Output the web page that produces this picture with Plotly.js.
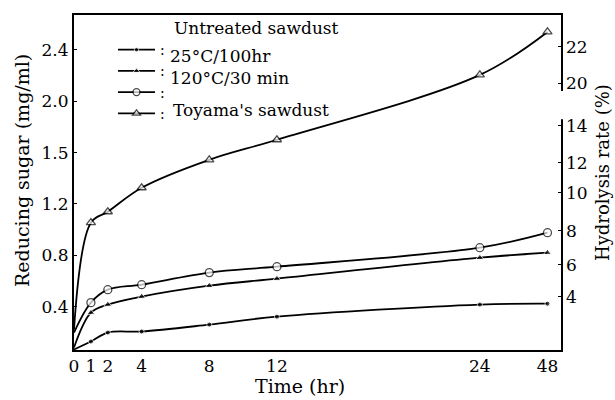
<!DOCTYPE html>
<html>
<head>
<meta charset="utf-8">
<script src="https://cdn.plot.ly/plotly-3.0.1.min.js"></script>
<style>html,body{margin:0;padding:0;background:#fff;}#chart{width:615px;height:400px;}</style>
</head>
<body>
<div id="chart"></div>
<script>
// ---- data ----
const hours = [0, 1, 2, 4, 8, 12, 24, 48];
const legendHeader = "Untreated sawdust";
const legendLabels = ["25°C/100hr", "120°C/30 min", "Toyama's sawdust"];
const sugarA = [0.066, 0.128, 0.198, 0.206, 0.260, 0.322, 0.416, 0.423];   // filled circles
const sugarB = [0.081, 0.353, 0.416, 0.478, 0.563, 0.618, 0.781, 0.820];   // filled triangles
const sugarC = [0.198, 0.431, 0.532, 0.571, 0.665, 0.711, 0.859, 0.976];   // open circles
const sugarD = [0.221, 1.054, 1.139, 1.326, 1.544, 1.700, 2.205, 2.540];   // open triangles
const xTickLabels = ["0", "1", "2", "4", "8", "12", "24", "48"];
const yTickLabels = ["0.4", "0.8", "1.2", "1.5", "2.0", "2.4"];
const yTickVals = [0.4, 0.8, 1.2, 1.6, 2.0, 2.4];
const rightTickLabels = ["4", "6", "8", "10", "12", "14", "20", "22"];
// right-axis calibration (hydrolysis rate tick -> reducing-sugar scale position)
const rightTickPos = [0.478, 0.727, 0.991, 1.287, 1.520, 1.809, 2.140, 2.423];

// axis break on time axis: linear up to 24 h, compressed beyond
function tpos(h) { return h <= 24 ? h : 24 + (h - 24) / 6; }
const xPos = hours.map(tpos);
const xTickVals = hours.map(tpos);

const FONT = "DejaVu Serif, Liberation Serif, serif";
function sizes(s) { return hours.map((h) => h === 0 ? 0 : s); }

const lineStyle = {color: "#000", width: 1.8, shape: "spline", smoothing: 1};
const traces = [
  {x: xPos, y: sugarA, name: ":", mode: "lines+markers", line: lineStyle,
   marker: {symbol: "circle", size: sizes(5), color: "#000"}},
  {x: xPos, y: sugarB, name: ":", mode: "lines+markers", line: lineStyle,
   marker: {symbol: "triangle-up", size: sizes(7), color: "#000"}},
  {x: xPos, y: sugarC, name: ":", mode: "lines+markers", line: lineStyle,
   marker: {symbol: "circle", size: sizes(8), color: "#fff", line: {color: "#000", width: 1.3}}},
  {x: xPos, y: sugarD, name: ":", mode: "lines+markers", line: lineStyle,
   marker: {symbol: "triangle-up", size: sizes(8), color: "#fff", line: {color: "#000", width: 1.3}}},
  // invisible trace carrying the right axis
  {x: [xPos[0]], y: [rightTickPos[0]], yaxis: "y2", mode: "markers", showlegend: false,
   hoverinfo: "skip", marker: {opacity: 0}}
];

function txt(text, x, y, size, extra) {
  return Object.assign({text: text, xref: "paper", yref: "paper", x: x, y: y,
    xanchor: "left", yanchor: "middle", showarrow: false,
    font: {family: FONT, size: size, color: "#000"}}, extra || {});
}

const yRange = [0.062, 2.672];
const layout = {
  width: 615, height: 400,
  margin: {l: 74, r: 54, t: 15, b: 50},
  paper_bgcolor: "#fff", plot_bgcolor: "#fff",
  font: {family: FONT, size: 17, color: "#000"},
  showlegend: true,
  legend: {x: 0.0801, y: 0.943, xanchor: "left", yanchor: "top", bgcolor: "rgba(0,0,0,0)",
           font: {family: FONT, size: 14, color: "#000"}, itemwidth: 37, tracegroupgap: 0},
  xaxis: {range: [0, 28.8], tickvals: xTickVals, ticktext: xTickLabels,
          showgrid: false, zeroline: false, showline: true, linecolor: "#000", linewidth: 2,
          mirror: true, ticks: "", tickfont: {family: FONT, size: 17}},
  yaxis: {range: yRange, tickvals: yTickVals, ticktext: yTickLabels,
          showgrid: false, zeroline: false, showline: true, linecolor: "#000", linewidth: 2,
          ticks: "inside", ticklen: 3, tickcolor: "#000", tickfont: {family: FONT, size: 17}},
  yaxis2: {overlaying: "y", side: "right", range: yRange, tickvals: rightTickPos, ticktext: rightTickLabels,
           showgrid: false, zeroline: false, showline: true, linecolor: "#000", linewidth: 1.5,
           ticks: "inside", ticklen: 3, tickcolor: "#000", tickfont: {family: FONT, size: 17}},
  annotations: [
    txt(legendHeader, 0.2012, 0.9612, 17),
    txt(legendLabels[0], 0.193, 0.8776, 17),
    txt(legendLabels[1], 0.193, 0.812, 17),
    txt(legendLabels[2], 0.199, 0.7164, 17),
    // axis titles
    txt("Time (hr)", 0.464, -0.108, 19, {xanchor: "center"}),
    txt("Reducing sugar (mg/ml)", -0.107, 0.537, 19, {xanchor: "center", textangle: -90}),
    txt("Hydrolysis rate (%)", 1.084, 0.531, 18, {xanchor: "center", textangle: -90})
  ],
  shapes: [
    // break in the right axis line
    {type: "rect", xref: "paper", yref: "y", x0: 0.99, x1: 1.01, y0: 1.86, y1: 2.08,
     fillcolor: "#fff", line: {width: 0}, layer: "above"}
  ]
};

Plotly.newPlot("chart", traces, layout, {displayModeBar: false, staticPlot: true});
</script>
</body>
</html>
